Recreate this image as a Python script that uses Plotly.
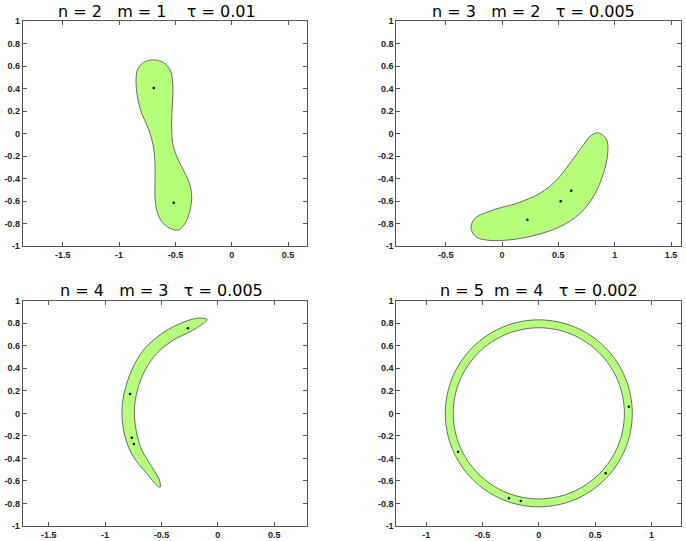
import plotly.graph_objects as go

# ---------------- data ----------------
titles = ["n = 2\u00a0\u00a0\u00a0m = 1\u00a0\u00a0\u00a0\u00a0τ = 0.01",
          "n = 3\u00a0\u00a0\u00a0m = 2\u00a0\u00a0\u00a0τ = 0.005",
          "n = 4\u00a0\u00a0\u00a0m = 3\u00a0\u00a0\u00a0τ = 0.005",
          "n = 5\u00a0\u00a0m = 4\u00a0\u00a0\u00a0τ = 0.002"]

shape1_x = [-0.695, -0.607, -0.547, -0.524, -0.524, -0.533, -0.533, -0.524, -0.488, -0.429,
            -0.376, -0.355, -0.370, -0.414, -0.474, -0.547, -0.621, -0.666, -0.681, -0.681,
            -0.681, -0.695, -0.735, -0.799, -0.837, -0.849, -0.837, -0.784, -0.695]
shape1_y = [0.656, 0.633, 0.567, 0.449, 0.300, 0.152, 0.033, -0.086, -0.205, -0.323,
            -0.442, -0.561, -0.679, -0.798, -0.858, -0.843, -0.783, -0.679, -0.561, -0.442,
            -0.264, -0.116, 0.033, 0.181, 0.330, 0.449, 0.567, 0.633, 0.656]
dots1_x = [-0.692, -0.515]
dots1_y = [0.407, -0.614]

shape2_x = [0.860, 0.929, 0.938, 0.900, 0.811, 0.693, 0.515, 0.278, 0.071, -0.106,
            -0.225, -0.275, -0.240, -0.077, 0.130, 0.337, 0.485, 0.603, 0.722, 0.796, 0.860]
shape2_y = [0.006, -0.056, -0.175, -0.353, -0.561, -0.709, -0.828, -0.908, -0.945, -0.950,
            -0.922, -0.843, -0.754, -0.679, -0.620, -0.531, -0.412, -0.264, -0.101, -0.012, 0.006]
dots2_x = [0.225, 0.521, 0.615]
dots2_y = [-0.766, -0.602, -0.508]

shape3_x = [-0.095, -0.186, -0.364, -0.512, -0.660, -0.763, -0.831, -0.850, -0.823, -0.749,
            -0.630, -0.541, -0.512, -0.518, -0.586, -0.674, -0.725, -0.740, -0.713, -0.645,
            -0.541, -0.394, -0.246, -0.128, -0.095]
shape3_y = [0.833, 0.844, 0.784, 0.696, 0.562, 0.385, 0.178, 0.000, -0.207, -0.385,
            -0.533, -0.640, -0.655, -0.592, -0.473, -0.325, -0.148, 0.030, 0.207, 0.385,
            0.533, 0.651, 0.725, 0.799, 0.833]
dots3_x = [-0.266, -0.778, -0.763, -0.745]
dots3_y = [0.755, 0.172, -0.216, -0.272]

outer4_x = [0.830, 0.767, 0.587, 0.318, 0.000, -0.318, -0.587, -0.767, -0.830, -0.767,
            -0.587, -0.318, 0.000, 0.318, 0.587, 0.767, 0.830]
outer4_y = [0.000, 0.318, 0.587, 0.767, 0.830, 0.767, 0.587, 0.318, 0.000, -0.318,
            -0.587, -0.767, -0.830, -0.767, -0.587, -0.318, 0.000]
inner4_x = [0.760, 0.702, 0.537, 0.291, 0.000, -0.291, -0.537, -0.702, -0.760, -0.702,
            -0.537, -0.291, 0.000, 0.291, 0.537, 0.702, 0.760]
inner4_y = [0.000, 0.291, 0.537, 0.702, 0.760, 0.702, 0.537, 0.291, 0.000, -0.291,
            -0.537, -0.702, -0.760, -0.702, -0.537, -0.291, 0.000]
dots4_x = [0.799, -0.716, -0.266, -0.160, 0.594]
dots4_y = [0.059, -0.340, -0.754, -0.778, -0.532]

y_ticks = [1, 0.8, 0.6, 0.4, 0.2, 0, -0.2, -0.4, -0.6, -0.8, -1]
y_labels = ["1", "0.8", "0.6", "0.4", "0.2", "0", "-0.2", "-0.4", "-0.6", "-0.8", "-1"]
x_ticks_1 = [-1.5, -1, -0.5, 0, 0.5]
x_labels_1 = ["-1.5", "-1", "-0.5", "0", "0.5"]
x_ticks_2 = [-0.5, 0, 0.5, 1, 1.5]
x_labels_2 = ["-0.5", "0", "0.5", "1", "1.5"]
x_ticks_4 = [-1, -0.5, 0, 0.5, 1]
x_labels_4 = ["-1", "-0.5", "0", "0.5", "1"]

x_ranges = [[-1.855, 0.668], [-0.938, 1.591], [-1.73, 0.79], [-1.265, 1.265]]

# ---------------- style ----------------
FILL = "rgb(181,255,122)"
EDGE = "rgb(105,105,105)"
W, H = 686, 541
dom_x = [[22.7 / W, 307 / W], [396.3 / W, 681.3 / W]]
dom_y_top = [1 - 246 / H, 1 - 21.3 / H]
dom_y_bot = [1 - 526 / H, 1 - 300.7 / H]

fig = go.Figure()

def blob(x, y, ax, fill=FILL):
    fig.add_trace(go.Scatter(x=x, y=y, xaxis="x" + ax, yaxis="y" + ax, mode="lines",
                             line=dict(color=EDGE, width=1, shape="spline", smoothing=1.0),
                             fill="toself", fillcolor=fill, hoverinfo="skip", showlegend=False))

def dots(x, y, ax):
    fig.add_trace(go.Scatter(x=x, y=y, xaxis="x" + ax, yaxis="y" + ax, mode="markers",
                             marker=dict(color="black", size=2.5), hoverinfo="skip",
                             showlegend=False))

blob(shape1_x, shape1_y, "")
dots(dots1_x, dots1_y, "")
blob(shape2_x, shape2_y, "2")
dots(dots2_x, dots2_y, "2")
blob(shape3_x, shape3_y, "3")
dots(dots3_x, dots3_y, "3")
blob(outer4_x, outer4_y, "4")
blob(inner4_x, inner4_y, "4", fill="white")
dots(dots4_x, dots4_y, "4")

tickfont = dict(family="Liberation Sans", size=9, color="#222", weight="bold")
axcommon = dict(showgrid=False, zeroline=False, showline=True, linecolor="#555", linewidth=1,
                mirror="allticks", ticks="inside", ticklen=4, tickcolor="#555", tickwidth=1,
                tickfont=tickfont, automargin=False, fixedrange=True)

layout = dict(width=W, height=H, margin=dict(l=0, r=0, t=0, b=0),
              paper_bgcolor="white", plot_bgcolor="white", showlegend=False,
              hovermode=False)

xt = [(x_ticks_1, x_labels_1), (x_ticks_2, x_labels_2), (x_ticks_1, x_labels_1), (x_ticks_4, x_labels_4)]
doms = [(dom_x[0], dom_y_top), (dom_x[1], dom_y_top), (dom_x[0], dom_y_bot), (dom_x[1], dom_y_bot)]
for i in range(4):
    sfx = "" if i == 0 else str(i + 1)
    anchor = "x" + sfx
    layout["xaxis" + sfx] = dict(axcommon, domain=doms[i][0], range=x_ranges[i],
                                 tickvals=xt[i][0], ticktext=xt[i][1], anchor="y" + sfx)
    layout["yaxis" + sfx] = dict(axcommon, domain=doms[i][1], range=[-1, 1],
                                 tickvals=y_ticks, ticktext=y_labels, anchor=anchor)

title_pos = [(157, 12), (533, 12), (161, 290.5), (539, 290.5)]
layout["annotations"] = [
    dict(text=titles[i], x=title_pos[i][0] / W, y=1 - title_pos[i][1] / H, xref="paper", yref="paper",
         showarrow=False, xanchor="center", yanchor="middle",
         font=dict(family="DejaVu Sans", size=16, color="black"))
    for i in range(4)
]
fig.update_layout(**layout)
fig.write_html("out.html", config={"displayModeBar": False},
               post_script="document.body.style.margin='0';document.body.style.overflow='hidden';")
